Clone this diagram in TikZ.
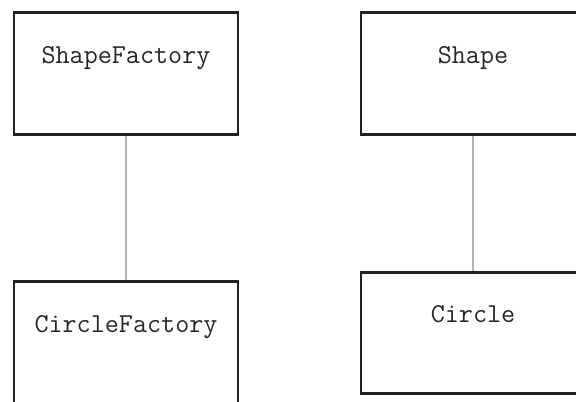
\documentclass[tikz,border=0pt]{standalone}
\usepackage{fontspec}
\definecolor{boxline}{HTML}{222222}
\definecolor{connline}{HTML}{B4B4B4}
\begin{document}
\begin{tikzpicture}[x=0.75pt,y=-0.75pt,
  classbox/.style={draw=boxline, line width=2.2pt, fill=white, rectangle,
    minimum width=168pt, minimum height=91pt, inner sep=0pt,
    font=\ttfamily\fontsize{20.5}{20.5}\selectfont, text=black!85,
    text height=9pt, text depth=24.5pt},
  link/.style={draw=connline, line width=1.1pt}]
\useasboundingbox (0,0) rectangle (576,401);
\clip (0,0) rectangle (576,401);
\fill[white] (0,0) rectangle (576,401);
\node[classbox] (sf) at (126,73.5) {ShapeFactory};
\node[classbox] (sh) at (473,73.5) {Shape};
\node[classbox, minimum height=100pt, text depth=33pt] (cf) at (126,348) {CircleFactory};
\node[classbox] (ci) at (473,333) {Circle};
\draw[link] (sf.south) -- (cf.north);
\draw[link] (sh.south) -- (ci.north);
\end{tikzpicture}
\end{document}
